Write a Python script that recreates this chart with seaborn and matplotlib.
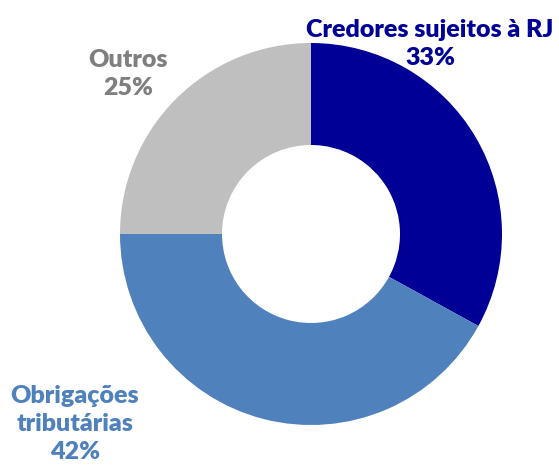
import matplotlib
matplotlib.use('Agg')
from matplotlib import pyplot as plt
import seaborn as sns

# 数据
labels = ['Credores sujeitos à RJ', 'Obrigações\ntributárias', 'Outros']
values = [33, 42, 25]
colors = ['#000096', '#4F81BD', '#BFBFBF']
text_colors = ['#000096', '#4F81BD', '#7F7F7F']

sns.set_style('white')
plt.rcParams['font.family'] = ['Lato', 'DejaVu Sans']

fig = plt.figure(figsize=(5.59, 4.69), dpi=100)
ax = fig.add_axes([0, 0, 1, 1])

ax.pie(values, colors=colors, startangle=90, counterclock=False,
       center=(311, 235), radius=191,
       wedgeprops={'width': 102, 'linewidth': 0})
ax.set_xlim(0, 559)
ax.set_ylim(0, 469)
ax.set_aspect('equal')
ax.axis('off')

# 标签 (像素坐标, y 向上)
label_pos = [(430, 425), (75, 45), (128, 395)]
for lab, v, c, (x, y) in zip(labels, values, text_colors, label_pos):
    ax.text(x, y, f'{lab}\n{v}%', ha='center', va='center', color=c,
            fontsize=18, fontweight='heavy', linespacing=1.35)

plt.savefig('out.png', dpi=100)
